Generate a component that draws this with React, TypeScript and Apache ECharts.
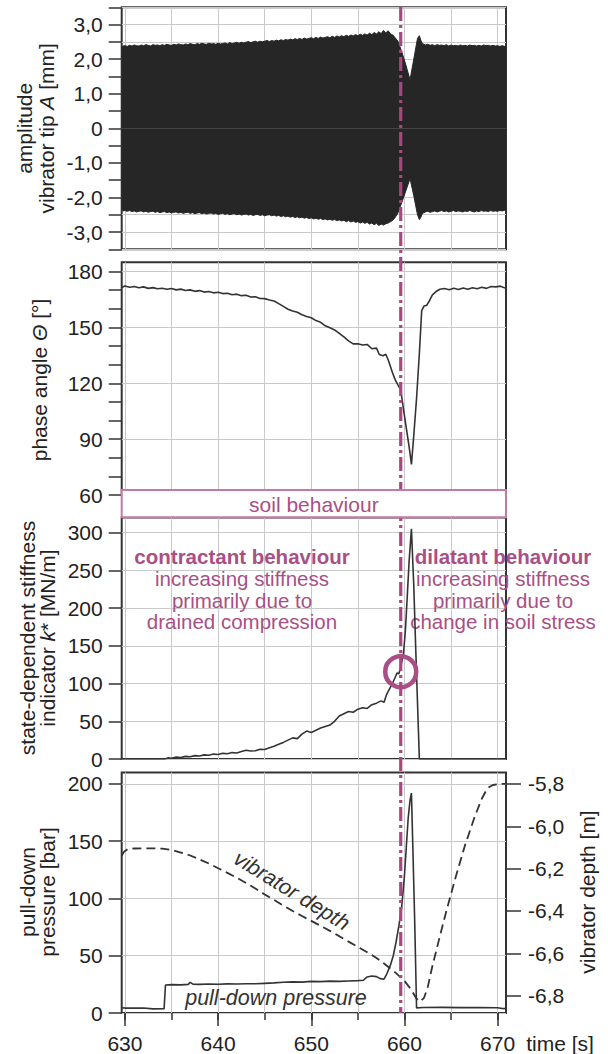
import React, { useEffect, useRef } from 'react';
import * as echarts from 'echarts';

const timeMin = 629.65;
const timeMax = 670.9;
const transitionTime = 659.6;

const xGridValues = [630, 635, 640, 645, 650, 655, 660, 665, 670];
const xLabelValues = [630, 640, 650, 660, 670];

const ampTicks = [-3.5, -3, -2.5, -2, -1.5, -1, -0.5, 0, 0.5, 1, 1.5, 2, 2.5, 3, 3.5];
const ampLabels = [-3, -2, -1, 0, 1, 2, 3];
const phaseTicks = [60, 70, 80, 90, 100, 110, 120, 130, 140, 150, 160, 170, 180];
const phaseLabels = [60, 90, 120, 150, 180];
const kTicks = [0, 50, 100, 150, 200, 250, 300];
const pressureTicks = [0, 50, 100, 150, 200];
const depthTicks = [-6.8, -6.6, -6.4, -6.2, -6.0, -5.8];

// upper and lower envelope of the vibrator tip amplitude signal [mm]
const ampUpper = [
  [629.65, 2.34], [629.8, 2.38],
  [630.0, 2.39], [630.25, 2.37], [630.5, 2.40], [630.75, 2.38], [631.0, 2.41], [631.25, 2.39], [631.5, 2.38], [631.75, 2.41],
  [632.0, 2.39], [632.25, 2.42], [632.5, 2.40], [632.75, 2.38], [633.0, 2.42], [633.25, 2.40], [633.5, 2.41], [633.75, 2.39],
  [634.0, 2.42], [634.25, 2.40], [634.5, 2.43], [634.75, 2.41], [635.0, 2.40], [635.25, 2.43], [635.5, 2.41], [635.75, 2.44],
  [636.0, 2.42], [636.25, 2.41], [636.5, 2.44], [636.75, 2.42], [637.0, 2.45], [637.25, 2.43], [637.5, 2.42], [637.75, 2.45],
  [638.0, 2.43], [638.25, 2.46], [638.5, 2.44], [638.75, 2.43], [639.0, 2.46], [639.25, 2.44], [639.5, 2.45], [639.75, 2.43],
  [640.0, 2.46], [640.25, 2.44], [640.5, 2.45], [640.75, 2.47], [641.0, 2.44], [641.25, 2.48], [641.5, 2.45], [641.75, 2.47],
  [642.0, 2.49], [642.25, 2.46], [642.5, 2.49], [642.75, 2.47], [643.0, 2.49], [643.25, 2.51], [643.5, 2.48], [643.75, 2.50],
  [644.0, 2.52], [644.25, 2.49], [644.5, 2.52], [644.75, 2.50], [645.0, 2.52], [645.25, 2.54], [645.5, 2.51], [645.75, 2.54],
  [646.0, 2.52], [646.25, 2.55], [646.5, 2.53], [646.75, 2.56], [647.0, 2.54], [647.25, 2.57], [647.5, 2.55], [647.75, 2.58],
  [648.0, 2.56], [648.25, 2.59], [648.5, 2.57], [648.75, 2.60], [649.0, 2.57], [649.25, 2.61], [649.5, 2.58], [649.75, 2.60],
  [650.0, 2.62], [650.25, 2.59], [650.5, 2.63], [650.75, 2.60], [651.0, 2.64], [651.25, 2.61], [651.5, 2.63], [651.75, 2.65],
  [652.0, 2.62], [652.25, 2.66], [652.5, 2.63], [652.75, 2.67], [653.0, 2.64], [653.25, 2.68], [653.5, 2.65], [653.75, 2.69],
  [654.0, 2.66], [654.25, 2.70], [654.5, 2.67], [654.75, 2.71], [655.0, 2.68], [655.25, 2.72], [655.5, 2.69], [655.75, 2.73],
  [656.0, 2.70], [656.25, 2.75], [656.5, 2.71], [656.75, 2.77], [657.0, 2.73], [657.25, 2.79], [657.5, 2.74], [657.75, 2.83],
  [658.0, 2.76], [658.25, 2.82], [658.5, 2.73], [658.75, 2.70],
  [659.0, 2.62], [659.3, 2.52], [659.7, 2.22], [660.1, 1.88], [660.6, 1.40], [661.0, 2.00], [661.4, 2.60], [661.6, 2.68],
  [661.75, 2.55], [661.9, 2.47],
  [662.0, 2.44], [662.25, 2.41], [662.5, 2.43], [662.75, 2.40], [663.0, 2.42], [663.25, 2.39], [663.5, 2.42], [663.75, 2.40],
  [664.0, 2.41], [664.25, 2.39], [664.5, 2.42], [664.75, 2.38], [665.0, 2.41], [665.25, 2.39], [665.5, 2.40], [665.75, 2.38],
  [666.0, 2.41], [666.25, 2.39], [666.5, 2.40], [666.75, 2.38], [667.0, 2.41], [667.25, 2.39], [667.5, 2.40], [667.75, 2.38],
  [668.0, 2.40], [668.25, 2.38], [668.5, 2.41], [668.75, 2.39], [669.0, 2.40], [669.25, 2.38], [669.5, 2.40], [669.75, 2.38],
  [670.0, 2.39], [670.25, 2.37], [670.5, 2.39], [670.75, 2.37], [670.9, 2.36],
];
const ampLower = [
  [629.65, -2.34], [629.8, -2.39],
  [630.0, -2.38], [630.25, -2.40], [630.5, -2.38], [630.75, -2.41], [631.0, -2.39], [631.25, -2.42], [631.5, -2.40], [631.75, -2.39],
  [632.0, -2.42], [632.25, -2.40], [632.5, -2.43], [632.75, -2.41], [633.0, -2.40], [633.25, -2.43], [633.5, -2.41], [633.75, -2.44],
  [634.0, -2.42], [634.25, -2.41], [634.5, -2.44], [634.75, -2.42], [635.0, -2.45], [635.25, -2.43], [635.5, -2.42], [635.75, -2.45],
  [636.0, -2.43], [636.25, -2.46], [636.5, -2.44], [636.75, -2.43], [637.0, -2.46], [637.25, -2.44], [637.5, -2.47], [637.75, -2.45],
  [638.0, -2.44], [638.25, -2.47], [638.5, -2.45], [638.75, -2.48], [639.0, -2.46], [639.25, -2.45], [639.5, -2.48], [639.75, -2.46],
  [640.0, -2.49], [640.25, -2.47], [640.5, -2.46], [640.75, -2.49], [641.0, -2.47], [641.25, -2.50], [641.5, -2.48], [641.75, -2.47],
  [642.0, -2.50], [642.25, -2.48], [642.5, -2.51], [642.75, -2.49], [643.0, -2.48], [643.25, -2.51], [643.5, -2.49], [643.75, -2.52],
  [644.0, -2.50], [644.25, -2.49], [644.5, -2.52], [644.75, -2.50], [645.0, -2.53], [645.25, -2.51], [645.5, -2.50], [645.75, -2.53],
  [646.0, -2.51], [646.25, -2.54], [646.5, -2.52], [646.75, -2.55], [647.0, -2.53], [647.25, -2.56], [647.5, -2.54], [647.75, -2.57],
  [648.0, -2.55], [648.25, -2.58], [648.5, -2.56], [648.75, -2.59], [649.0, -2.57], [649.25, -2.60], [649.5, -2.58], [649.75, -2.61],
  [650.0, -2.59], [650.25, -2.62], [650.5, -2.60], [650.75, -2.63], [651.0, -2.61], [651.25, -2.64], [651.5, -2.62], [651.75, -2.65],
  [652.0, -2.63], [652.25, -2.66], [652.5, -2.64], [652.75, -2.67], [653.0, -2.65], [653.25, -2.68], [653.5, -2.66], [653.75, -2.70],
  [654.0, -2.67], [654.25, -2.71], [654.5, -2.68], [654.75, -2.72], [655.0, -2.70], [655.25, -2.74], [655.5, -2.71], [655.75, -2.75],
  [656.0, -2.72], [656.25, -2.77], [656.5, -2.74], [656.75, -2.79], [657.0, -2.75], [657.25, -2.81], [657.5, -2.77], [657.75, -2.80],
  [658.0, -2.76], [658.25, -2.74], [658.5, -2.70], [658.75, -2.66],
  [659.0, -2.58], [659.3, -2.45], [659.7, -2.15], [660.1, -1.85], [660.6, -1.45], [661.0, -1.95], [661.4, -2.50], [661.6, -2.64],
  [661.75, -2.58], [661.9, -2.48],
  [662.0, -2.45], [662.25, -2.42], [662.5, -2.40], [662.75, -2.43], [663.0, -2.41], [663.25, -2.39], [663.5, -2.42], [663.75, -2.40],
  [664.0, -2.38], [664.25, -2.41], [664.5, -2.39], [664.75, -2.42], [665.0, -2.40], [665.25, -2.38], [665.5, -2.41], [665.75, -2.39],
  [666.0, -2.40], [666.25, -2.42], [666.5, -2.39], [666.75, -2.41], [667.0, -2.38], [667.25, -2.40], [667.5, -2.42], [667.75, -2.39],
  [668.0, -2.41], [668.25, -2.38], [668.5, -2.40], [668.75, -2.39], [669.0, -2.41], [669.25, -2.38], [669.5, -2.40], [669.75, -2.39],
  [670.0, -2.40], [670.25, -2.38], [670.5, -2.39], [670.75, -2.37], [670.9, -2.36],
];

const phaseAngle = [
  [629.65, 171.5], [630.0, 172.3], [630.5, 171.6], [631, 172.0], [631.5, 171.3], [632, 171.8],
  [632.5, 171.0], [633, 171.4], [633.5, 170.8], [634, 171.1], [634.5, 170.5], [635, 170.9],
  [635.5, 170.2], [636, 170.6], [636.5, 169.9], [637, 170.2], [637.5, 169.4], [638, 169.8],
  [638.5, 169.0], [639, 169.3], [639.5, 168.6], [640, 168.9], [640.5, 168.2], [641, 168.4],
  [641.5, 167.6], [642, 167.9], [642.5, 167.1], [643, 167.3], [643.5, 166.4], [644, 166.5],
  [644.5, 165.6], [645, 165.5], [645.5, 164.8], [646, 164.2], [646.5, 162.8], [647, 161.3],
  [647.5, 159.8], [648, 158.9], [648.5, 158.2], [649, 156.8], [649.5, 155.9], [650, 155.2],
  [650.5, 153.7], [651, 152.8], [651.5, 150.9], [652, 149.8], [652.5, 148.7], [653, 146.8],
  [653.5, 144.9], [654, 142.8], [654.5, 141.2], [655, 141.3], [655.5, 140.6], [656, 140.9],
  [656.5, 138.6], [657, 138.9], [657.3, 135.5], [657.7, 134.8], [658, 135.6], [658.3, 132.0],
  [658.7, 126.0], [659.0, 122.0], [659.3, 119.2], [659.6, 116.5], [659.9, 106.0], [660.2, 96.0],
  [660.5, 86.0], [660.75, 76.5], [661.0, 92.0], [661.3, 112.0], [661.6, 136.0], [661.85, 159.0],
  [662.1, 161.5], [662.4, 162.0], [662.7, 164.5], [663.0, 167.5], [663.4, 169.3], [663.8, 170.5],
  [664.3, 170.9], [664.8, 170.3], [665.3, 171.1], [665.8, 170.4], [666.3, 171.2], [666.8, 170.5],
  [667.3, 171.3], [667.8, 170.8], [668.3, 171.6], [668.8, 171.0], [669.3, 172.0], [669.8, 171.8],
  [670.3, 172.2], [670.9, 171.0],
];

const stiffness = [
  [629.65, 0], [634.3, 0], [634.6, 1.5], [635, 1.0], [635.5, 2.5], [636, 2.0], [636.5, 3.5],
  [637, 3.0], [637.5, 4.5], [638, 4.0], [638.5, 5.5], [639, 5.0], [639.5, 6.5], [640, 6.0],
  [640.5, 7.5], [641, 7.0], [641.5, 8.5], [642, 8.0], [642.5, 10.0], [643, 11.5], [643.5, 10.5],
  [644, 11.0], [644.5, 13.0], [645, 12.5], [645.5, 15.0], [646, 17.0], [646.5, 19.5], [647, 22.0],
  [647.5, 25.0], [648, 28.0], [648.5, 27.0], [649, 33.0], [649.5, 37.0], [650, 35.0], [650.5, 38.0],
  [651, 41.0], [651.5, 43.0], [652, 45.0], [652.5, 50.0], [653, 57.0], [653.5, 60.0], [654, 63.0],
  [654.5, 62.0], [655, 66.0], [655.5, 68.0], [656, 67.0], [656.5, 72.0], [657, 74.0], [657.5, 77.0],
  [657.8, 75.0], [658.1, 86.0], [658.4, 93.0], [658.7, 100.0], [659.0, 108.0], [659.2, 114.0],
  [659.4, 113.0], [659.6, 122.0], [659.9, 140.0], [660.1, 170.0], [660.3, 215.0], [660.5, 262.0],
  [660.75, 305.0], [661.0, 230.0], [661.2, 150.0], [661.4, 75.0], [661.6, 0], [670.9, 0],
];

const pullDownPressure = [
  [629.65, 4.5], [630, 4.3], [631, 4.4], [632, 4.3], [633, 3.6], [634.2, 3.8], [634.35, 24.5],
  [635, 24.8], [636, 24.6], [636.8, 25.0], [637, 26.8], [637.3, 25.2], [638, 25.0], [639, 25.3],
  [640, 25.1], [641, 25.4], [642, 25.3], [643, 25.6], [644, 25.5], [645, 25.9], [646, 26.3],
  [647, 26.8], [648, 27.2], [649, 27.0], [650, 27.6], [651, 27.4], [652, 27.8], [653, 27.6],
  [654, 28.0], [655, 28.3], [655.6, 28.6], [656, 31.5], [656.5, 32.3], [657, 31.8], [657.4, 30.0],
  [657.8, 29.5], [658.1, 34.0], [658.5, 42.0], [658.8, 50.0], [659.1, 62.0], [659.4, 76.0],
  [659.7, 92.0], [660.0, 120.0], [660.2, 145.0], [660.4, 170.0], [660.6, 186.0], [660.75, 192.0],
  [660.9, 145.0], [661.1, 80.0], [661.3, 4.5], [662, 4.8], [664, 4.9], [666, 4.7], [668, 4.8],
  [670, 4.6], [670.5, 3.9], [670.9, 3.8],
];

const vibratorDepth = [
  [629.65, -6.14], [629.9, -6.12], [630.3, -6.108], [631, -6.105], [632, -6.104], [633, -6.104],
  [634, -6.106], [635, -6.112], [636, -6.124], [637, -6.138], [638, -6.156], [639, -6.176],
  [640, -6.198], [641, -6.22], [642, -6.243], [643, -6.268], [644, -6.294], [645, -6.322],
  [646, -6.348], [647, -6.375], [648, -6.4], [649, -6.424], [650, -6.447], [651, -6.47],
  [652, -6.494], [653, -6.519], [654, -6.545], [655, -6.57], [656, -6.595], [657, -6.622],
  [658, -6.655], [659, -6.69], [660, -6.73], [660.7, -6.77], [661.3, -6.815], [661.7, -6.828],
  [662.1, -6.81], [662.5, -6.76], [663, -6.66], [663.8, -6.52], [664.5, -6.40], [665.5, -6.24],
  [666.5, -6.09], [667.5, -5.96], [668.3, -5.87], [668.9, -5.82], [669.5, -5.805], [670.2, -5.8],
  [670.9, -5.8],
];

const circleMark = [[659.6, 115.7]];

const FONT = "'Liberation Sans', Arial, Helvetica, sans-serif";
const INK = '#222';
const FRAME = '#333';
const GRID = '#c9c9c9';
const PINK = '#a94f86';
const PINK_LIGHT = '#c27aa6';
const BAND = '#262626';

const fmtComma = (v: number) => (Math.abs(v) < 1e-9 ? '0' : v.toFixed(1).replace('.', ','));
const fmtInt = (v: number) => String(Math.round(v));

const GL = 121.7;
const GW = 384.3;

function xAxisHidden(gridIndex: number) {
  return {
    type: 'value', gridIndex, min: timeMin, max: timeMax,
    axisLine: { show: false },
    axisTick: { show: false, customValues: xGridValues },
    axisLabel: { show: false },
    splitLine: { show: true, lineStyle: { color: GRID, width: 1 } },
  };
}

function yAxisBase(gridIndex: number, min: number, max: number, ticks: number[], labels: number[], fmt: (v: number) => string, split: boolean) {
  return {
    type: 'value', gridIndex, min, max, position: 'left',
    axisLine: { show: false },
    axisTick: { show: true, customValues: ticks, length: 13, lineStyle: { color: FRAME, width: 1.5 } },
    axisLabel: { customValues: labels, formatter: fmt, margin: 19, fontSize: 21, color: INK, fontFamily: FONT },
    splitLine: { show: split, lineStyle: { color: GRID, width: 1 } },
  };
}

const gridStyle = { show: true, borderColor: FRAME, borderWidth: 2, backgroundColor: 'transparent' };

const option: any = {
  animation: false,
  backgroundColor: '#fff',
  grid: [
    { left: GL, top: 7.3, width: GW, height: 242, ...gridStyle },
    { left: GL, top: 262.3, width: GW, height: 232.8, ...gridStyle },
    { left: GL, top: 517.5, width: GW, height: 241.5, ...gridStyle },
    { left: GL, top: 772.5, width: GW, height: 240.8, ...gridStyle },
  ],
  xAxis: [
    xAxisHidden(0),
    xAxisHidden(1),
    xAxisHidden(2),
    {
      type: 'value', gridIndex: 3, min: timeMin, max: timeMax, position: 'bottom',
      axisLine: { show: false },
      axisTick: { show: true, customValues: xGridValues, length: 7, lineStyle: { color: FRAME, width: 1.5 } },
      axisLabel: { customValues: xLabelValues, formatter: fmtInt, margin: 20, fontSize: 21, color: INK, fontFamily: FONT },
      splitLine: { show: true, lineStyle: { color: GRID, width: 1 } },
    },
    {
      type: 'value', gridIndex: 3, min: timeMin, max: timeMax, position: 'bottom',
      axisLine: { show: false },
      axisTick: { show: true, customValues: xLabelValues, length: 13, lineStyle: { color: FRAME, width: 1.5 } },
      axisLabel: { show: false },
      splitLine: { show: false },
    },
  ],
  yAxis: [
    yAxisBase(0, -3.5, 3.5, ampTicks, ampLabels, fmtComma, true),
    yAxisBase(1, 60, 185, phaseTicks, phaseLabels, fmtInt, false),
    {
      type: 'value', gridIndex: 1, min: 60, max: 185, position: 'right',
      axisLine: { show: false },
      axisTick: { show: false, customValues: phaseLabels },
      axisLabel: { show: false },
      splitLine: { show: true, lineStyle: { color: GRID, width: 1 } },
    },
    yAxisBase(2, 0, 320, kTicks, kTicks, fmtInt, true),
    yAxisBase(3, 0, 210, pressureTicks, pressureTicks, fmtInt, true),
    {
      type: 'value', gridIndex: 3, min: -6.882, max: -5.746, position: 'right',
      axisLine: { show: false },
      axisTick: { show: true, customValues: depthTicks, length: 15, lineStyle: { color: FRAME, width: 1.5 } },
      axisLabel: { customValues: depthTicks, formatter: fmtComma, margin: 22, fontSize: 21, color: INK, fontFamily: FONT },
      splitLine: { show: false },
    },
  ],
  series: [
    {
      type: 'line', xAxisIndex: 0, yAxisIndex: 0, showSymbol: false, symbol: 'none',
      data: ampUpper,
      lineStyle: { color: BAND, width: 1 },
      areaStyle: { color: BAND, opacity: 1, origin: 'auto' },
      z: 2,
    },
    {
      type: 'line', xAxisIndex: 0, yAxisIndex: 0, showSymbol: false, symbol: 'none',
      data: ampLower,
      lineStyle: { color: BAND, width: 1 },
      areaStyle: { color: BAND, opacity: 1, origin: 'auto' },
      z: 2,
    },
    {
      type: 'line', xAxisIndex: 1, yAxisIndex: 1, showSymbol: false, symbol: 'none',
      data: phaseAngle, lineStyle: { color: FRAME, width: 1.6 }, z: 3,
    },
    {
      type: 'line', xAxisIndex: 2, yAxisIndex: 3, showSymbol: false, symbol: 'none',
      data: stiffness, lineStyle: { color: FRAME, width: 1.6 }, z: 3,
    },
    {
      type: 'scatter', xAxisIndex: 2, yAxisIndex: 3, data: circleMark, symbol: 'circle', symbolSize: 31,
      itemStyle: { color: 'rgba(0,0,0,0)', borderColor: PINK, borderWidth: 4.5, opacity: 1 },
      silent: true, z: 6,
    },
    {
      type: 'line', xAxisIndex: 3, yAxisIndex: 4, showSymbol: false, symbol: 'none',
      data: pullDownPressure, lineStyle: { color: FRAME, width: 1.6 }, z: 3,
    },
    {
      type: 'line', xAxisIndex: 3, yAxisIndex: 5, showSymbol: false, symbol: 'none',
      data: vibratorDepth, lineStyle: { color: FRAME, width: 1.8, type: [9, 5] }, z: 3,
    },
  ],
};

function txt(x: number, y: number, text: string, opts: any = {}) {
  const { rotation = 0, fill = INK, fontSize = 21, fontWeight = 'normal', fontStyle = 'normal', rich, z = 30 } = opts;
  return {
    type: 'text', x, y, rotation, z, silent: true,
    style: {
      text, fill, fontSize, fontWeight, fontStyle, fontFamily: FONT,
      align: 'center', verticalAlign: 'middle', textAlign: 'center', textVerticalAlign: 'middle',
      rich,
    },
  };
}

function richNI(fontSize = 21) {
  return {
    n: { fontSize, fontFamily: FONT, fill: INK, fontStyle: 'normal' },
    i: { fontSize, fontFamily: FONT, fill: INK, fontStyle: 'italic' },
  };
}

function buildGraphic(lineX: number) {
  const R = Math.PI / 2;
  return [
    {
      type: 'line', z: 15, silent: true,
      shape: { x1: lineX, y1: 7, x2: lineX, y2: 1013 },
      style: { stroke: '#a5497f', lineWidth: 3.2, lineDash: [14, 4, 3, 4] },
    },
    {
      type: 'rect', z: 20, silent: true,
      shape: { x: GL, y: 490, width: GW, height: 27.3 },
      style: { fill: '#fff', stroke: PINK_LIGHT, lineWidth: 2 },
    },
    txt(GL + GW / 2, 504, 'soil behaviour', { fill: PINK, z: 21 }),
    txt(24, 128.3, 'amplitude', { rotation: R }),
    txt(46.5, 128.3, '{n|vibrator tip }{i|A}{n| [mm]}', { rotation: R, rich: richNI() }),
    txt(39, 380, '{n|phase angle }{i|Θ}{n| [°]}', { rotation: R, rich: richNI() }),
    txt(27, 638, 'state-dependent stiffness', { rotation: R }),
    txt(47, 638, '{n|indicator }{i|k}{n|* [MN/m]}', { rotation: R, rich: richNI() }),
    txt(27, 892, 'pull-down', { rotation: R }),
    txt(47, 892, 'pressure [bar]', { rotation: R }),
    txt(587, 892, 'vibrator depth [m]', { rotation: R }),
    txt(560, 1043, 'time [s]'),
    txt(242, 556.7, 'contractant behaviour', { fill: PINK, fontWeight: 'bold', fontSize: 20.5, z: 1 }),
    txt(242, 578.3, 'increasing stiffness', { fill: PINK, fontSize: 20.5, z: 1 }),
    txt(242, 600, 'primarily due to', { fill: PINK, fontSize: 20.5, z: 1 }),
    txt(242, 621.7, 'drained compression', { fill: PINK, fontSize: 20.5, z: 1 }),
    txt(503, 556.7, 'dilatant behaviour', { fill: PINK, fontWeight: 'bold', fontSize: 20.5, z: 1 }),
    txt(503, 578.3, 'increasing stiffness', { fill: PINK, fontSize: 20.5, z: 1 }),
    txt(503, 600, 'primarily due to', { fill: PINK, fontSize: 20.5, z: 1 }),
    txt(503, 621.7, 'change in soil stress', { fill: PINK, fontSize: 20.5, z: 1 }),
    txt(291.7, 890.8, 'vibrator depth', { fontStyle: 'italic', rotation: -0.55, fontSize: 21.5, fill: '#333' }),
    txt(276, 998.3, 'pull-down pressure', { fontStyle: 'italic', fontSize: 21.5, fill: '#333' }),
  ];
}

export default function App() {
  const ref = useRef<HTMLDivElement>(null);
  useEffect(() => {
    if (!ref.current) return;
    const chart = echarts.init(ref.current, null, { renderer: 'svg' });
    chart.setOption(option);
    const px = chart.convertToPixel({ xAxisIndex: 3 }, transitionTime) as unknown as number;
    chart.setOption({ graphic: buildGraphic(px) });
    return () => chart.dispose();
  }, []);
  return (
    <div
      ref={ref}
      style={{ position: 'fixed', left: 0, top: 0, width: 608, height: 1054, background: '#fff' }}
    />
  );
}
